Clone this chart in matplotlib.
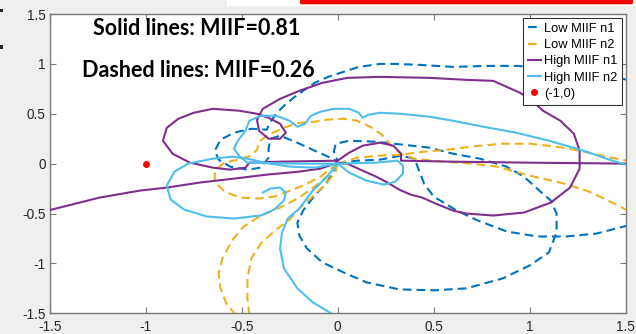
import matplotlib
matplotlib.use("Agg")
import matplotlib.pyplot as plt
from matplotlib.lines import Line2D
from matplotlib.patches import Rectangle, FancyBboxPatch

# ---------------- axis ticks ----------------
x_ticks = [-1.5, -1, -0.5, 0, 0.5, 1, 1.5]
x_tick_labels = ["-1.5", "-1", "-0.5", "0", "0.5", "1", "1.5"]
y_ticks = [-1.5, -1, -0.5, 0, 0.5, 1, 1.5]
y_tick_labels = ["-1.5", "-1", "-0.5", "0", "0.5", "1", "1.5"]

series_names = ["Low MIIF n1", "Low MIIF n2", "High MIIF n1", "High MIIF n2"]
critical_re = [-1.0]
critical_im = [0.0]

# ---------------- Low MIIF n1 (dashed) ----------------
low_n1_a_re = [1.53, 1.40, 1.25, 1.10, 0.93, 0.78, 0.60, 0.43, 0.30, 0.22, 0.11, 0.03,
               -0.05, -0.12, -0.18, -0.23, -0.28, -0.32, -0.35, -0.37, -0.45, -0.54,
               -0.61, -0.64, -0.62, -0.56, -0.47, -0.40, -0.36, -0.36, -0.35, -0.30,
               -0.21, -0.12, -0.05, 0.0]
low_n1_a_im = [0.83, 0.89, 0.93, 0.96, 0.98, 0.98, 0.97, 0.99, 1.00, 1.00, 0.97, 0.92,
               0.87, 0.81, 0.73, 0.66, 0.58, 0.50, 0.42, 0.34, 0.35, 0.31,
               0.24, 0.13, 0.04, -0.03, -0.06, -0.04, 0.06, 0.15, 0.25, 0.28,
               0.21, 0.13, 0.07, 0.02]

low_n1_b_re = [0.0, -0.06, -0.12, -0.18, -0.21, -0.20, -0.16, -0.08, 0.03, 0.15, 0.32,
               0.50, 0.67, 0.86, 1.00, 1.10, 1.14, 1.14, 1.11, 1.05, 0.97, 0.88,
               0.74, 0.60, 0.48, 0.34, 0.20, 0.06, -0.01, -0.02, 0.0]
low_n1_b_im = [0.0, -0.20, -0.32, -0.47, -0.59, -0.72, -0.85, -0.99, -1.09, -1.19, -1.26,
               -1.27, -1.25, -1.15, -1.02, -0.89, -0.69, -0.50, -0.37, -0.27, -0.13, -0.03,
               0.05, 0.10, 0.16, 0.19, 0.22, 0.23, 0.20, 0.12, 0.03]

low_n1_c_re = [0.0, 0.10, 0.22, 0.33, 0.40, 0.42, 0.45, 0.50, 0.62, 0.73, 0.88, 1.04,
               1.19, 1.35, 1.53]
low_n1_c_im = [0.0, 0.03, 0.04, 0.08, 0.05, -0.05, -0.20, -0.33, -0.47, -0.57, -0.68, -0.73,
               -0.73, -0.70, -0.61]

# ---------------- Low MIIF n2 (dashed) ----------------
low_n2_a_re = [-0.53, -0.58, -0.61, -0.62, -0.60, -0.55, -0.49, -0.40, -0.30, -0.20,
               -0.10, -0.03, 0.0]
low_n2_a_im = [-1.52, -1.40, -1.25, -1.10, -0.95, -0.77, -0.63, -0.52, -0.44, -0.34,
               -0.20, -0.08, 0.0]

low_n2_b_re = [-0.46, -0.47, -0.47, -0.45, -0.40, -0.32, -0.25, -0.20, -0.13, -0.06,
               -0.01, 0.0]
low_n2_b_im = [-1.52, -1.35, -1.15, -0.95, -0.80, -0.66, -0.56, -0.45, -0.33, -0.20,
               -0.08, 0.0]

low_n2_c_re = [0.0, -0.09, -0.18, -0.26, -0.33, -0.41, -0.51, -0.59, -0.64, -0.64, -0.59,
               -0.52, -0.45, -0.42, -0.41, -0.36, -0.28, -0.20, -0.12, -0.06, 0.03,
               0.10, 0.17, 0.23, 0.28, 0.33, 0.40, 0.55, 0.70, 0.83, 1.00, 1.18,
               1.31, 1.44, 1.53]
low_n2_c_im = [0.0, -0.13, -0.22, -0.28, -0.33, -0.35, -0.34, -0.28, -0.18, -0.07, 0.01,
               0.04, 0.08, 0.14, 0.22, 0.29, 0.36, 0.41, 0.42, 0.44, 0.45,
               0.43, 0.37, 0.29, 0.18, 0.10, 0.05, 0.02, 0.0, -0.03, -0.12, -0.20,
               -0.28, -0.40, -0.49]

low_n2_d_re = [0.0, 0.10, 0.22, 0.33, 0.45, 0.57, 0.74, 0.86, 1.00, 1.14, 1.26, 1.40, 1.53]
low_n2_d_im = [0.0, 0.06, 0.08, 0.09, 0.12, 0.14, 0.18, 0.20, 0.20, 0.17, 0.13, 0.07, 0.02]

# ---------------- High MIIF n1 (solid) ----------------
high_n1_a_re = [-1.53, -1.24, -1.03, -0.89, -0.72, -0.54, -0.37, -0.20, -0.09, 0.0]
high_n1_a_im = [-0.48, -0.34, -0.27, -0.24, -0.19, -0.15, -0.11, -0.08, -0.05, 0.01]

high_n1_b_re = [0.0, 0.05, 0.13, 0.20, 0.26, 0.32, 0.38, 0.44, 0.51, 0.60, 0.67, 0.81,
                0.97, 1.11, 1.21, 1.26, 1.26, 1.23, 1.16, 1.07, 1.00, 0.95, 0.81,
                0.67, 0.48, 0.22, 0.05, -0.08, -0.20, -0.30, -0.39, -0.42, -0.41,
                -0.36, -0.30, -0.27, -0.30, -0.36, -0.42, -0.51, -0.65, -0.75, -0.83,
                -0.89, -0.91, -0.86, -0.77, -0.65, -0.56, -0.48, -0.46, -0.30, 0.0,
                0.06, 0.13, 0.22, 0.29, 0.33, 0.33, 0.60, 1.00, 1.53]
high_n1_b_im = [0.01, 0.0, -0.07, -0.13, -0.19, -0.26, -0.31, -0.34, -0.40, -0.47, -0.50, -0.52,
                -0.49, -0.39, -0.24, -0.05, 0.13, 0.30, 0.43, 0.53, 0.65, 0.71, 0.83,
                0.84, 0.86, 0.87, 0.86, 0.81, 0.73, 0.65, 0.55, 0.44, 0.33,
                0.25, 0.25, 0.31, 0.40, 0.46, 0.50, 0.53, 0.55, 0.51, 0.45,
                0.36, 0.23, 0.10, 0.01, -0.04, -0.06, -0.04, 0.01, 0.02, 0.03,
                0.11, 0.18, 0.21, 0.18, 0.10, 0.03, 0.02, 0.01, 0.0]

# ---------------- High MIIF n2 (solid) ----------------
high_n2_a_re = [-0.39, -0.35, -0.30, -0.27, -0.28, -0.33, -0.40, -0.54, -0.68, -0.80,
                -0.87, -0.89, -0.85, -0.78, -0.65, -0.55, -0.47, -0.38, -0.25, -0.12, 0.0]
high_n2_a_im = [-0.29, -0.25, -0.24, -0.29, -0.37, -0.46, -0.52, -0.55, -0.53, -0.46,
                -0.36, -0.22, -0.08, 0.0, 0.05, 0.07, 0.05, 0.01, -0.03, -0.04, 0.0]

high_n2_b_re = [0.0, -0.20, -0.47, -0.51, -0.54, -0.52, -0.48, -0.46, -0.40, -0.32, -0.25,
                -0.21, -0.17, -0.14, -0.09, -0.02, 0.06, 0.11, 0.13, 0.16, 0.22, 0.33,
                0.48, 0.60, 0.76, 0.93, 1.10, 1.28, 1.40, 1.53]
high_n2_b_im = [0.0, 0.0, 0.01, 0.07, 0.15, 0.23, 0.33, 0.43, 0.48, 0.48, 0.43,
                0.37, 0.40, 0.48, 0.52, 0.55, 0.55, 0.51, 0.46, 0.49, 0.51, 0.50,
                0.47, 0.43, 0.37, 0.31, 0.23, 0.13, 0.05, -0.03]

high_n2_c_re = [0.0, -0.06, -0.13, -0.20, -0.26, -0.29, -0.30, -0.28, -0.21, -0.13, -0.06, -0.02]
high_n2_c_im = [0.0, -0.14, -0.27, -0.45, -0.55, -0.69, -0.85, -1.05, -1.25, -1.39, -1.47, -1.52]

high_n2_d_re = [0.0, 0.06, 0.15, 0.24, 0.30, 0.34, 0.34, 0.31, 0.20, 0.0]
high_n2_d_im = [0.0, -0.09, -0.17, -0.21, -0.18, -0.10, -0.02, 0.03, 0.01, 0.0]

# ---------------- styling ----------------
c_blue = "#0072BD"
c_orange = "#EDB120"
c_purple = "#7E2F8E"
c_cyan = "#4DBEEE"
lw = 1.5
dash = (0, (4.2, 2.4))

fig = plt.figure(figsize=(6.36, 3.34), dpi=100, facecolor="#efefed")
ax = fig.add_axes([0.0781, 0.062, 0.9057, 0.896])
ax.set_facecolor("white")

low_n1 = [(low_n1_a_re, low_n1_a_im), (low_n1_b_re, low_n1_b_im), (low_n1_c_re, low_n1_c_im)]
low_n2 = [(low_n2_a_re, low_n2_a_im), (low_n2_b_re, low_n2_b_im),
          (low_n2_c_re, low_n2_c_im), (low_n2_d_re, low_n2_d_im)]
high_n1 = [(high_n1_a_re, high_n1_a_im), (high_n1_b_re, high_n1_b_im)]
high_n2 = [(high_n2_a_re, high_n2_a_im), (high_n2_b_re, high_n2_b_im),
           (high_n2_c_re, high_n2_c_im), (high_n2_d_re, high_n2_d_im)]

for re, im in low_n1:
    ax.plot(re, im, color=c_blue, lw=lw, linestyle=dash, zorder=2)
for re, im in low_n2:
    ax.plot(re, im, color=c_orange, lw=lw, linestyle=dash, zorder=3)
for re, im in high_n1:
    ax.plot(re, im, color=c_purple, lw=lw, zorder=4)
for re, im in high_n2:
    ax.plot(re, im, color=c_cyan, lw=lw, zorder=5)
ax.plot(critical_re, critical_im, "o", color="red", markersize=4, zorder=6)

ax.set_xlim(-1.5, 1.5)
ax.set_ylim(-1.5, 1.5)
ax.set_xticks(x_ticks)
ax.set_xticklabels(x_tick_labels)
ax.set_yticks(y_ticks)
ax.set_yticklabels(y_tick_labels)
ax.tick_params(direction="in", length=4, width=0.8, color="#7a7a7a",
               top=True, right=True, labelsize=9.8, labelcolor="#262626")
ax.tick_params(axis="x", pad=4.5)
ax.tick_params(axis="y", pad=3)
for s in ax.spines.values():
    s.set_color("#7a7a7a")
    s.set_linewidth(1.0)
for lab in ax.get_xticklabels() + ax.get_yticklabels():
    lab.set_family(["Liberation Sans", "DejaVu Sans"])

# annotations
ax.text(-1.274, 1.353, "Solid lines: MIIF=0.81", fontsize=15.5, fontweight="bold",
        family=["Lato", "DejaVu Sans"], ha="left", va="center", zorder=7)
ax.text(-1.332, 0.933, "Dashed lines: MIIF=0.26", fontsize=15.5, fontweight="bold",
        family=["Lato", "DejaVu Sans"], ha="left", va="center", zorder=7)

handles = [
    Line2D([], [], color=c_blue, lw=lw, linestyle=(0, (4.2, 20))),
    Line2D([], [], color=c_orange, lw=lw, linestyle=(0, (4.2, 20))),
    Line2D([], [], color=c_purple, lw=lw),
    Line2D([], [], color=c_cyan, lw=lw),
    Line2D([], [], color="red", marker="o", linestyle="none", markersize=4),
]
leg = ax.legend(handles, series_names + ["(-1,0)"], loc="upper right",
                bbox_to_anchor=(0.9936, 0.986), borderaxespad=0, fancybox=False,
                framealpha=1, edgecolor="#333333", handlelength=1.0, handletextpad=0.25,
                labelspacing=0.33, borderpad=0.35, prop={"family": "Liberation Sans", "size": 9.3})
leg.get_frame().set_linewidth(0.8)
leg.set_zorder(10)

# screenshot edge details
fig.patches.append(Rectangle((227 / 636, 1 - 5.5 / 334), 409 / 636, 5.5 / 334,
                             transform=fig.transFigure, facecolor="white", edgecolor="none"))
fig.patches.append(FancyBboxPatch((300 / 636, 1 - 4.3 / 334), 333 / 636, 6 / 334,
                                  boxstyle="round,pad=0,rounding_size=0.004",
                                  transform=fig.transFigure, facecolor="#ff0000", edgecolor="none"))
fig.patches.append(Rectangle((0, 1 - 12 / 334), 3 / 636, 3 / 334,
                             transform=fig.transFigure, facecolor="#222222", edgecolor="none"))
fig.patches.append(Rectangle((0, 1 - 48.5 / 334), 3 / 636, 3 / 334,
                             transform=fig.transFigure, facecolor="#222222", edgecolor="none"))

fig.savefig("out.png", dpi=100, facecolor=fig.get_facecolor())
